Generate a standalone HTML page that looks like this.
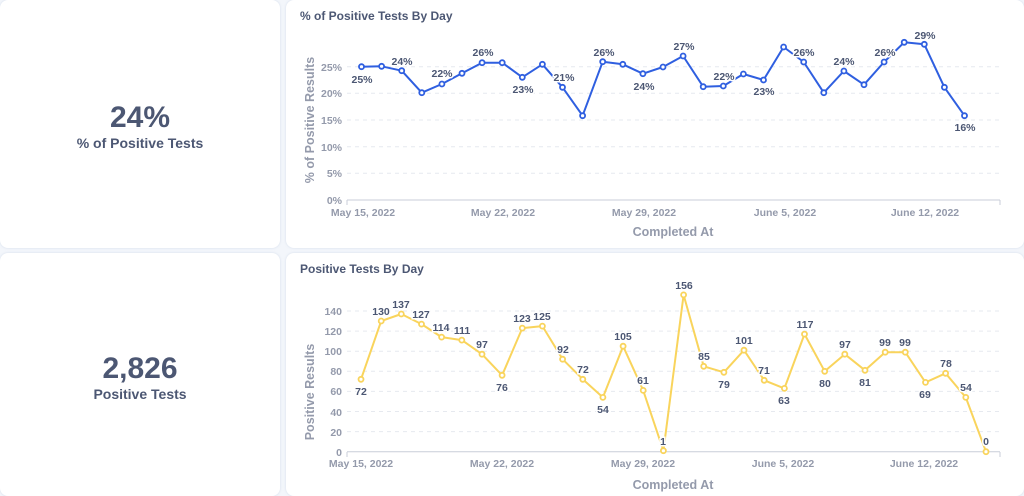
<!DOCTYPE html>
<html><head><style>
body{margin:0;width:1024px;height:496px;background:#f3f6fb;overflow:hidden;font-family:"Liberation Sans",sans-serif}
.card{position:absolute;background:#fff;border-radius:8px;box-shadow:0 0 2px rgba(180,195,220,.5)}
.big{position:absolute;width:280px;text-align:center;color:#4c5773}
.big b{display:block;font-size:30px;font-weight:bold}
.big span{font-size:14px;font-weight:bold}
svg{position:absolute;left:0;top:0}
</style></head><body>
<div class="card" style="left:0;top:0;width:280px;height:248px"></div>
<div class="card" style="left:286px;top:0;width:738px;height:248px"></div>
<div class="card" style="left:0;top:253px;width:280px;height:243px"></div>
<div class="card" style="left:286px;top:253px;width:738px;height:243px"></div>
<div class="big" style="top:101px"><b>24%</b><span>% of Positive Tests</span></div>
<div class="big" style="top:352px"><b>2,826</b><span>Positive Tests</span></div>
<svg width="1024" height="496" font-family="Liberation Sans, sans-serif">
<g font-size="12" font-weight="bold" fill="#4c5773">
<text x="300" y="20">% of Positive Tests By Day</text>
<text x="300" y="273">Positive Tests By Day</text>
</g>
<g stroke="#e6e9ef" stroke-dasharray="4,4">
<line x1="347" x2="1000" y1="173.3" y2="173.3"/><line x1="347" x2="1000" y1="146.7" y2="146.7"/><line x1="347" x2="1000" y1="120" y2="120"/><line x1="347" x2="1000" y1="93.3" y2="93.3"/><line x1="347" x2="1000" y1="66.7" y2="66.7"/>
<line x1="347" x2="1000" y1="431.6" y2="431.6"/><line x1="347" x2="1000" y1="411.5" y2="411.5"/><line x1="347" x2="1000" y1="391.4" y2="391.4"/><line x1="347" x2="1000" y1="371.3" y2="371.3"/><line x1="347" x2="1000" y1="351.2" y2="351.2"/><line x1="347" x2="1000" y1="331.1" y2="331.1"/><line x1="347" x2="1000" y1="311" y2="311"/>
</g>
<g stroke="#c9ced8"><line x1="347" x2="1000" y1="200" y2="200"/><line x1="347" x2="1000" y1="451.7" y2="451.7"/>
<line x1="347" x2="347" y1="200" y2="205"/><line x1="1000" x2="1000" y1="200" y2="205"/><line x1="347" x2="347" y1="452" y2="457"/><line x1="1000" x2="1000" y1="452" y2="457"/></g>
<g font-size="10.5" fill="#949aab" text-anchor="end" font-weight="bold">
<text x="342" y="204">0%</text><text x="342" y="177">5%</text><text x="342" y="151">10%</text><text x="342" y="124">15%</text><text x="342" y="97">20%</text><text x="342" y="71">25%</text>
<text x="342" y="456">0</text><text x="342" y="436">20</text><text x="342" y="416">40</text><text x="342" y="395">60</text><text x="342" y="375">80</text><text x="342" y="355">100</text><text x="342" y="335">120</text><text x="342" y="315">140</text>
</g>
<g font-size="10.5" fill="#949aab" text-anchor="middle" font-weight="bold">
<text x="363" y="216">May 15, 2022</text><text x="503" y="216">May 22, 2022</text><text x="644" y="216">May 29, 2022</text><text x="785" y="216">June 5, 2022</text><text x="925" y="216">June 12, 2022</text>
<text x="361" y="467">May 15, 2022</text><text x="502" y="467">May 22, 2022</text><text x="643" y="467">May 29, 2022</text><text x="783" y="467">June 5, 2022</text><text x="924" y="467">June 12, 2022</text>
</g>
<g font-size="12.5" fill="#949aab" text-anchor="middle" font-weight="bold">
<text x="673" y="236">Completed At</text><text x="673" y="489">Completed At</text>
<text transform="translate(314,120) rotate(-90)">% of Positive Results</text>
<text transform="translate(314,392) rotate(-90)">Positive Results</text>
</g>
<polyline fill="none" stroke="#2f5fe0" stroke-width="2" stroke-linejoin="round" points="361.5,66.7 381.6,66.3 401.7,70.7 421.8,92.7 441.9,84 462,73.3 482.1,62.7 502.2,62.7 522.3,77.3 542.4,64.3 562.5,87.3 582.6,115.7 602.7,61.7 622.8,64.3 642.9,73.7 663,67 683.1,56 703.2,86.7 723.3,86 743.4,74 763.5,80 783.6,47 803.7,62 823.8,92.7 843.9,71 864,84.7 884.1,62 904.2,42.3 924.3,44.3 944.4,87.3 964.5,115.7"/>
<g fill="#fff" stroke="#2f5fe0" stroke-width="1.8">
<circle cx="361.5" cy="66.7" r="2.5"/><circle cx="381.6" cy="66.3" r="2.5"/><circle cx="401.7" cy="70.7" r="2.5"/><circle cx="421.8" cy="92.7" r="2.5"/><circle cx="441.9" cy="84" r="2.5"/><circle cx="462" cy="73.3" r="2.5"/><circle cx="482.1" cy="62.7" r="2.5"/><circle cx="502.2" cy="62.7" r="2.5"/><circle cx="522.3" cy="77.3" r="2.5"/><circle cx="542.4" cy="64.3" r="2.5"/><circle cx="562.5" cy="87.3" r="2.5"/><circle cx="582.6" cy="115.7" r="2.5"/><circle cx="602.7" cy="61.7" r="2.5"/><circle cx="622.8" cy="64.3" r="2.5"/><circle cx="642.9" cy="73.7" r="2.5"/><circle cx="663" cy="67" r="2.5"/><circle cx="683.1" cy="56" r="2.5"/><circle cx="703.2" cy="86.7" r="2.5"/><circle cx="723.3" cy="86" r="2.5"/><circle cx="743.4" cy="74" r="2.5"/><circle cx="763.5" cy="80" r="2.5"/><circle cx="783.6" cy="47" r="2.5"/><circle cx="803.7" cy="62" r="2.5"/><circle cx="823.8" cy="92.7" r="2.5"/><circle cx="843.9" cy="71" r="2.5"/><circle cx="864" cy="84.7" r="2.5"/><circle cx="884.1" cy="62" r="2.5"/><circle cx="904.2" cy="42.3" r="2.5"/><circle cx="924.3" cy="44.3" r="2.5"/><circle cx="944.4" cy="87.3" r="2.5"/><circle cx="964.5" cy="115.7" r="2.5"/>
</g>
<polyline fill="none" stroke="#f9d45c" stroke-width="2" stroke-linejoin="round" points="361,379.3 381.2,321 401.3,314 421.5,324.1 441.6,337.1 461.8,340.1 482,354.2 502.1,375.3 522.3,328.1 542.4,326.1 562.6,359.2 582.8,379.3 602.9,397.4 623.1,346.2 643.2,390.4 663.4,450.7 683.6,294.9 703.7,366.3 723.9,372.3 744,350.2 764.2,380.3 784.4,388.4 804.5,334.1 824.7,371.3 844.8,354.2 865,370.3 885.2,352.2 905.3,352.2 925.5,382.4 945.6,373.3 965.8,397.4 986,451.7"/>
<g fill="#fff" stroke="#f9d45c" stroke-width="1.8">
<circle cx="361" cy="379.3" r="2.5"/><circle cx="381.2" cy="321" r="2.5"/><circle cx="401.3" cy="314" r="2.5"/><circle cx="421.5" cy="324.1" r="2.5"/><circle cx="441.6" cy="337.1" r="2.5"/><circle cx="461.8" cy="340.1" r="2.5"/><circle cx="482" cy="354.2" r="2.5"/><circle cx="502.1" cy="375.3" r="2.5"/><circle cx="522.3" cy="328.1" r="2.5"/><circle cx="542.4" cy="326.1" r="2.5"/><circle cx="562.6" cy="359.2" r="2.5"/><circle cx="582.8" cy="379.3" r="2.5"/><circle cx="602.9" cy="397.4" r="2.5"/><circle cx="623.1" cy="346.2" r="2.5"/><circle cx="643.2" cy="390.4" r="2.5"/><circle cx="663.4" cy="450.7" r="2.5"/><circle cx="683.6" cy="294.9" r="2.5"/><circle cx="703.7" cy="366.3" r="2.5"/><circle cx="723.9" cy="372.3" r="2.5"/><circle cx="744" cy="350.2" r="2.5"/><circle cx="764.2" cy="380.3" r="2.5"/><circle cx="784.4" cy="388.4" r="2.5"/><circle cx="804.5" cy="334.1" r="2.5"/><circle cx="824.7" cy="371.3" r="2.5"/><circle cx="844.8" cy="354.2" r="2.5"/><circle cx="865" cy="370.3" r="2.5"/><circle cx="885.2" cy="352.2" r="2.5"/><circle cx="905.3" cy="352.2" r="2.5"/><circle cx="925.5" cy="382.4" r="2.5"/><circle cx="945.6" cy="373.3" r="2.5"/><circle cx="965.8" cy="397.4" r="2.5"/><circle cx="986" cy="451.7" r="2.5"/>
</g>
<g font-size="10.5" font-weight="bold" fill="#4c5773" text-anchor="middle" stroke="#fff" stroke-width="3" paint-order="stroke">
<text x="362" y="83">25%</text><text x="402" y="65">24%</text><text x="442" y="77">22%</text><text x="483" y="56">26%</text><text x="523" y="93">23%</text><text x="564" y="81">21%</text><text x="604" y="56">26%</text><text x="644" y="90">24%</text><text x="684" y="50">27%</text><text x="724" y="80">22%</text><text x="764" y="95">23%</text><text x="804" y="56">26%</text><text x="844" y="65">24%</text><text x="885" y="56">26%</text><text x="925" y="39">29%</text><text x="965" y="131">16%</text>
<text x="361" y="395">72</text><text x="381" y="315">130</text><text x="401" y="308">137</text><text x="421" y="318">127</text><text x="441" y="331">114</text><text x="462" y="334">111</text><text x="482" y="348">97</text><text x="502" y="391">76</text><text x="522" y="322">123</text><text x="542" y="320">125</text><text x="563" y="353">92</text><text x="583" y="373">72</text><text x="603" y="413">54</text><text x="623" y="340">105</text><text x="643" y="384">61</text><text x="663" y="445">1</text><text x="684" y="289">156</text><text x="704" y="360">85</text><text x="724" y="388">79</text><text x="744" y="344">101</text><text x="764" y="374">71</text><text x="784" y="404">63</text><text x="805" y="328">117</text><text x="825" y="387">80</text><text x="845" y="348">97</text><text x="865" y="386">81</text><text x="885" y="346">99</text><text x="905" y="346">99</text><text x="925" y="398">69</text><text x="946" y="367">78</text><text x="966" y="391">54</text><text x="986" y="445">0</text>
</g>
</svg>
</body></html>
